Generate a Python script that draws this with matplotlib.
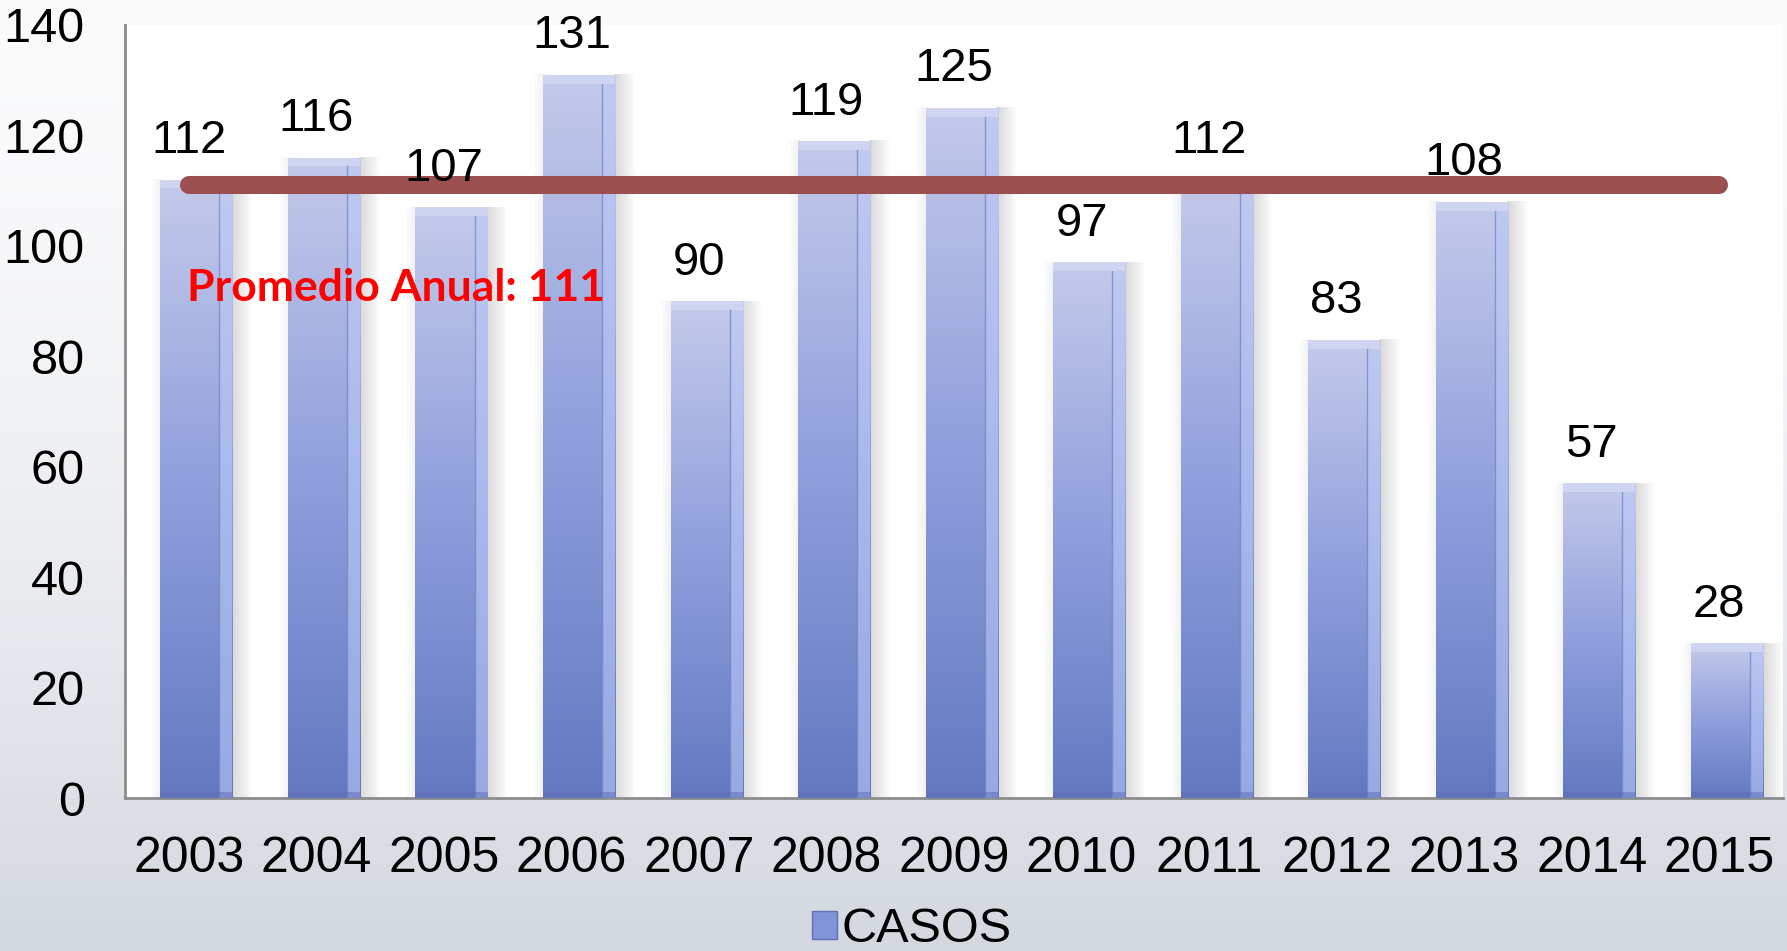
import numpy as np
import matplotlib.pyplot as plt
from matplotlib.colors import LinearSegmentedColormap, to_rgb
from matplotlib.patches import Patch

# data
years = ['2003', '2004', '2005', '2006', '2007', '2008', '2009',
         '2010', '2011', '2012', '2013', '2014', '2015']
casos = [112, 116, 107, 131, 90, 119, 125, 97, 112, 83, 108, 57, 28]
promedio = 111
serie = 'CASOS'
nota = 'Promedio Anual: 111'
y_ticks = [0, 20, 40, 60, 80, 100, 120, 140]

W, H = 1787, 951
fig = plt.figure(figsize=(W / 100, H / 100), dpi=100)

# slide background: white on top, grey-blue towards the bottom
bg = fig.add_axes([0, 0, 1, 1], zorder=-10)
bg.axis('off')
t = np.linspace(0, 1, 300)[:, None] ** 1.6
top, bottom = np.array(to_rgb('#fbfbfc')), np.array(to_rgb('#d3d8df'))
grad = top + (bottom - top) * t[:, :, None]
grad = np.repeat(grad, 2, axis=1)
bg.imshow(grad, aspect='auto', extent=[0, 1, 0, 1])
bg.set_xlim(0, 1)
bg.set_ylim(0, 1)

ax = fig.add_axes([125 / W, 1 - 798 / H, 1658 / W, 773 / H])
ax.set_facecolor('white')
ax.set_xlim(-0.5, len(years) - 0.5)
ax.set_ylim(0, 140)

x = np.arange(len(years))
xb = x + 0.06  # bars sit a touch right of the category centre
bw = 0.565
bar_cmap = LinearSegmentedColormap.from_list('bar', ['#c4caea', '#8e9fdc', '#6479c2'])
vert = np.linspace(0, 1, 200)[:, None]

bars = ax.bar(xb, casos, width=bw, color='none', edgecolor='none', zorder=3)
for xi, v, b in zip(xb, casos, bars):
    # soft shadow to the right
    sh = np.zeros((2, 40, 4))
    sh[..., :3] = 0.55
    sh[..., 3] = np.linspace(0.35, 0, 40)[None, :]
    ax.imshow(sh, aspect='auto', extent=[xi + bw / 2 - 0.01, xi + bw / 2 + 0.16, 0, v],
              zorder=2, interpolation='bilinear')
    sh2 = sh[:, ::-1, :].copy()
    sh2[..., 3] *= 0.4
    ax.imshow(sh2, aspect='auto', extent=[xi - bw / 2 - 0.08, xi - bw / 2 + 0.01, 0, v],
              zorder=2, interpolation='bilinear')
    # vertical gradient body
    im = ax.imshow(vert, cmap=bar_cmap, aspect='auto', vmin=0, vmax=1,
                   extent=[xi - bw / 2, xi + bw / 2, 0, v], zorder=3)
    im.set_clip_path(b)
    # bevel: right highlight strip, top band, bottom band
    ax.bar(xi + bw / 2 - bw * 0.09, v, width=bw * 0.18, color='#bccaf8', alpha=0.6,
           edgecolor='none', zorder=4)
    ax.plot([xi + bw / 2 - bw * 0.18] * 2, [0.6, v - 1.6], color='#5e72ba', lw=1, alpha=0.6, zorder=4)
    ax.bar(xi, 1.6, bottom=v - 1.6, width=bw, color='#d3d8f2', alpha=0.8,
           edgecolor='none', zorder=4)
    ax.bar(xi, 1.0, width=bw, color='#5b6db3', alpha=0.5, edgecolor='none', zorder=4)

for xi, v in zip(x, casos):
    ax.annotate(str(v), (xi, v), xytext=(0, 19), textcoords='offset points',
                ha='center', va='baseline', fontsize=34, family='Liberation Sans', zorder=6)

# annual average line
ax.plot([x[0], x[-1]], [promedio, promedio], color='#9c4f4f', lw=13,
        solid_capstyle='round', zorder=5)
ax.text(-0.01, 90, nota, color='#ff0000', fontsize=32, fontweight='bold',
        family='Lato', ha='left', va='baseline', zorder=6)

ax.set_xticks(x)
ax.set_xticklabels(years, fontsize=36, family='Liberation Sans')
ax.set_yticks(y_ticks)
ax.set_yticklabels([str(v) for v in y_ticks], fontsize=35, family='Liberation Sans')
ax.tick_params(axis='x', length=0, pad=27)
ax.tick_params(axis='y', length=0, pad=29)
for s in ['top', 'right']:
    ax.spines[s].set_visible(False)
for s in ['left', 'bottom']:
    ax.spines[s].set_color('#8c8c8c')
    ax.spines[s].set_linewidth(2)

fig.legend(handles=[Patch(facecolor='#8294d8', edgecolor='#5d70b8', label=serie)],
           loc='center', bbox_to_anchor=(912 / W, 1 - 930 / H), frameon=False,
           prop={'family': 'Liberation Sans', 'size': 35},
           handlelength=0.5, handleheight=0.5, handletextpad=0.1)

fig.savefig('out.png', dpi=100)
